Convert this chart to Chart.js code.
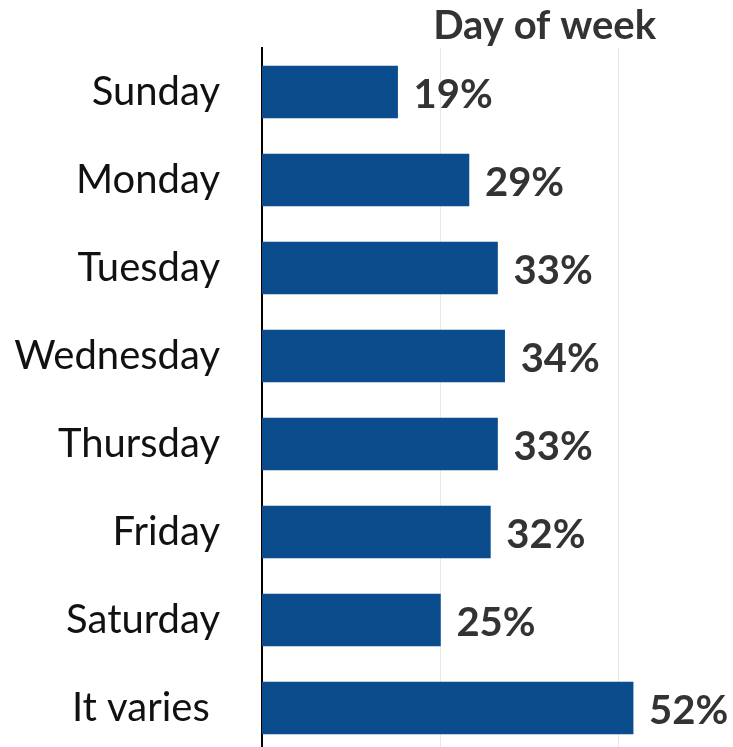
<!DOCTYPE html>
<html>
<head>
<meta charset="utf-8">
<script src="https://cdn.jsdelivr.net/npm/chart.js@4.4.0/dist/chart.umd.min.js"></script>
<style>
  html, body { margin: 0; padding: 0; background: #fff; overflow: hidden; }
  canvas { display: block; }
</style>
</head>
<body>
<canvas id="dayChart" width="733" height="760"></canvas>
<script>
var days = ["Sunday", "Monday", "Tuesday", "Wednesday", "Thursday", "Friday", "Saturday", "It varies "];
var shares = [19, 29, 33, 34, 33, 32, 25, 52];
var gridTicks = [25, 50];

var fontFamily = "Lato, 'Open Sans', sans-serif";

// value labels at the end of each bar, and the heading above the plot
var barLabels = {
  id: 'barLabels',
  afterDatasetsDraw: function(chart) {
    var ctx = chart.ctx;
    var meta = chart.getDatasetMeta(0);
    ctx.save();
    ctx.font = "bold 40px " + fontFamily;
    ctx.fillStyle = "#333333";
    ctx.textAlign = "left";
    ctx.textBaseline = "middle";
    meta.data.forEach(function(bar, i) {
      ctx.fillText(shares[i] + "%", bar.x + 16, bar.y + 3);
    });
    var area = chart.chartArea;
    ctx.textAlign = "center";
    ctx.fillText("Day of week", area.left + (area.right - area.left) * 0.6, 26);
    ctx.restore();
  }
};

var ctx = document.getElementById("dayChart");
var chart = new Chart(ctx, {
  type: 'bar',
  data: {
    labels: days,
    datasets: [{
      data: shares,
      backgroundColor: "#0b4c8c",
      borderWidth: 0,
      barThickness: 52
    }]
  },
  options: {
    indexAxis: 'y',
    responsive: false,
    animation: false,
    layout: { padding: { top: 48, bottom: 8, right: 0, left: 0 } },
    plugins: {
      legend: { display: false },
      tooltip: { enabled: false }
    },
    scales: {
      x: {
        min: 0,
        max: 66,
        afterBuildTicks: function(scale) {
          scale.ticks = gridTicks.map(function(v) { return { value: v }; });
        },
        afterFit: function(scale) {
          scale.height = 0;
          scale.paddingLeft = 0;
          scale.paddingRight = 0;
        },
        ticks: { display: false },
        grid: { color: "#e8e8e8", lineWidth: 1, drawTicks: false },
        border: { display: false }
      },
      y: {
        afterFit: function(scale) {
          scale.width = 262;
          scale.paddingTop = 0;
          scale.paddingBottom = 0;
        },
        ticks: {
          color: "#111111",
          padding: 42,
          font: { family: fontFamily, size: 40 }
        },
        grid: { display: false, drawTicks: false },
        border: { color: "#000000", width: 2 }
      }
    }
  },
  plugins: [barLabels]
});
</script>
</body>
</html>
